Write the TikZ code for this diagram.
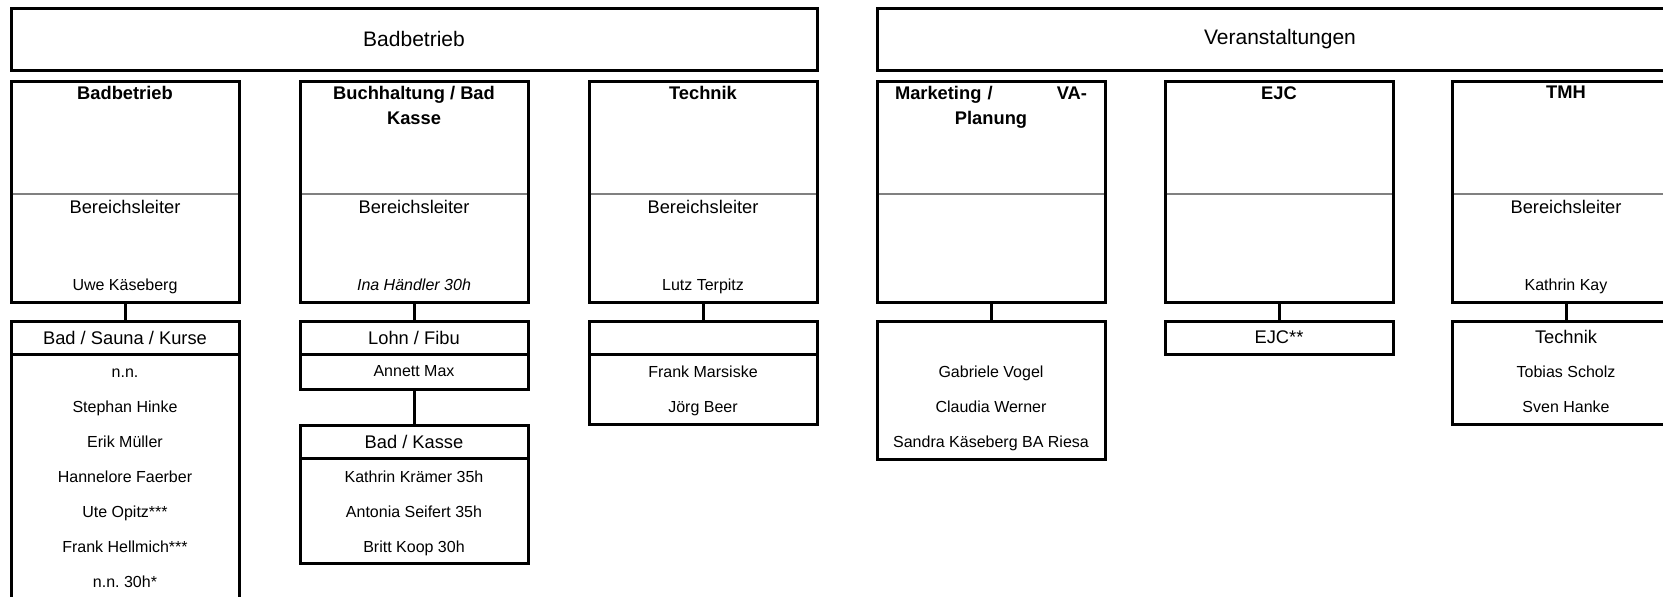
\documentclass[tikz,border=0pt]{standalone}
\usepackage{fontspec}
\setmainfont{Liberation Sans}
\usetikzlibrary{calc}
\frenchspacing

\begin{document}
\begin{tikzpicture}[x=0.5pt,y=-0.5pt,
  orgbox/.style={draw,line width=1.5pt,inner sep=0pt,outer sep=0pt,anchor=north west,minimum width=114pt},
  areabox/.style={orgbox,minimum width=403pt,minimum height=31pt,font=\fontsize{10.5pt}{12pt}\selectfont},
  leadbox/.style={orgbox,minimum height=110.5pt},
  cellbox/.style={orgbox,minimum height=16.5pt,font=\fontsize{9.15pt}{11pt}\selectfont},
  rowbox/.style={orgbox,minimum height=17.5pt,font=\fontsize{8pt}{10pt}\selectfont},
  listbox/.style={orgbox,minimum height=#1*17.5pt},
  divider/.style={draw=gray,line width=0.9pt,shorten <=0.75pt,shorten >=0.75pt},
  link/.style={draw,line width=1.5pt},
  title/.style={anchor=north,inner sep=0pt,align=center,font=\bfseries\fontsize{9.15pt}{12.5pt}\selectfont},
  role/.style={anchor=base,inner sep=0pt,font=\fontsize{9.15pt}{11pt}\selectfont},
  person/.style={anchor=base,inner sep=0pt,font=\fontsize{8pt}{10pt}\selectfont}]

  \clip (0,0) rectangle (1663,596);

  % Bereiche
  \node[areabox] (badbetrieb) at (11,8) {Badbetrieb};
  \node[areabox] (veranst) at (877,8) {Veranstaltungen};

  % Leitungsfelder mit grauer Trennlinie
  \foreach \x/\n in {11/lbad, 300/lbuch, 589/ltech, 877/lmark, 1165/lejc, 1452/ltmh}{
    \node[leadbox] (\n) at (\x,81) {};
    \draw[divider] ([yshift=-1.25pt]\n.west) -- ([yshift=-1.25pt]\n.east);
  }

  \node[title] (tbad) at ($(lbad.north)+(0,5)$) {Badbetrieb};
  \node[title] (tbuch) at ($(lbuch.north)+(0,5)$) {Buchhaltung / Bad\\Kasse};
  \node[title] (ttech) at ($(ltech.north)+(0,5)$) {Technik};
  \node[title,text width=96pt] (tmark) at ($(lmark.north)+(0,5)$) {Marketing /\hfill VA-\\Planung};
  \node[title] (tejc) at ($(lejc.north)+(0,5)$) {EJC};
  \node[title] (ttmh) at ($(ltmh.north)+(0,5)$) {TMH};

  \node[role] (rbad) at ($(lbad.north)+(0,132)$) {Bereichsleiter};
  \node[role] (rbuch) at ($(lbuch.north)+(0,132)$) {Bereichsleiter};
  \node[role] (rtech) at ($(ltech.north)+(0,132)$) {Bereichsleiter};
  \node[role] (rtmh) at ($(ltmh.north)+(0,132)$) {Bereichsleiter};

  \node[person] (kbad) at ($(lbad.north)+(0,209)$) {Uwe Käseberg};
  \node[person] (kbuch) at ($(lbuch.north)+(0,209)$) {\itshape Ina Händler 30h};
  \node[person] (ktech) at ($(ltech.north)+(0,209)$) {Lutz Terpitz};
  \node[person] (ktmh) at ($(ltmh.north)+(0,209)$) {Kathrin Kay};

  % Bad / Sauna / Kurse
  \node[cellbox] (hsauna) at (11,321) {Bad / Sauna / Kurse};
  \node[listbox=7] (lsauna) at (11,354) {};
  \foreach \p [count=\i] in {n.n., Stephan Hinke, Erik Müller, Hannelore Faerber,
      Ute Opitz***, Frank Hellmich***, n.n. 30h*}
    \node[person] (sauna\i) at ($(lsauna.north)+(0,35*\i-11.3)$) {\p};
  \draw[link] (lbad.south) -- (hsauna.north);

  % Lohn / Fibu und Kasse
  \node[cellbox] (hlohn) at (300,321) {Lohn / Fibu};
  \node[rowbox] (lannett) at (300,354) {Annett Max};
  \node[cellbox] (hkasse) at (300,425) {Bad / Kasse};
  \node[listbox=3] (lkasse) at (300,458) {};
  \foreach \p [count=\i] in {Kathrin Krämer 35h, Antonia Seifert 35h, Britt Koop 30h}
    \node[person] (kasse\i) at ($(lkasse.north)+(0,35*\i-10.3)$) {\p};
  \draw[link] (lbuch.south) -- (hlohn.north);
  \draw[link] (lannett.south) -- (hkasse.north);

  % Technik
  \node[cellbox] (htech) at (589,321) {};
  \node[listbox=2] (stech) at (589,354) {};
  \foreach \p [count=\i] in {Frank Marsiske, Jörg Beer}
    \node[person] (tech\i) at ($(stech.north)+(0,35*\i-11.3)$) {\p};
  \draw[link] (ltech.south) -- (htech.north);

  % Marketing / VA-Planung
  \node[orgbox,minimum height=69pt] (smark) at (877,321) {};
  \foreach \p [count=\i] in {Gabriele Vogel, Claudia Werner, Sandra Käseberg BA Riesa}
    \node[person] (mark\i) at ($(smark.north)+(0,35*\i+21.7)$) {\p};
  \draw[link] (lmark.south) -- (smark.north);

  % EJC
  \node[cellbox] (hejc) at (1165,321) {EJC**};
  \draw[link] (lejc.south) -- (hejc.north);

  % TMH
  \node[orgbox,minimum height=51.5pt] (stmh) at (1452,321) {};
  \node[role] (htmh) at ($(stmh.north)+(0,22.5)$) {Technik};
  \foreach \p [count=\i] in {Tobias Scholz, Sven Hanke}
    \node[person] (tmh\i) at ($(stmh.north)+(0,35*\i+21.7)$) {\p};
  \draw[link] (ltmh.south) -- (stmh.north);
\end{tikzpicture}
\end{document}
